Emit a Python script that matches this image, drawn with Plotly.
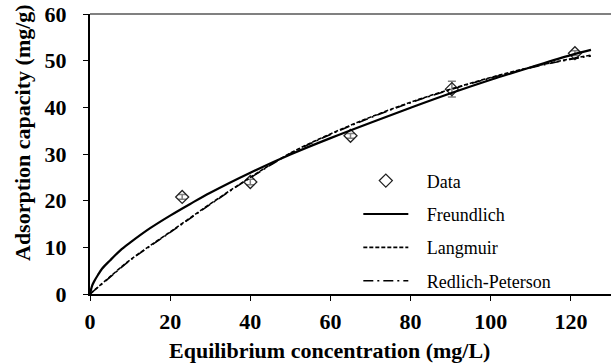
import plotly.graph_objects as go

# Experimental data
data_c = [23, 40, 65, 90.3, 121]
data_q = [20.8, 24.0, 33.9, 43.9, 51.6]
data_err = [0.5, 0.6, 0.5, 1.7, 0.5]

# Freundlich model curve
fr_c = [0, 0.5, 1, 2, 3, 5, 7.5, 10, 15, 20, 25, 30, 40, 50, 60, 70, 80, 90, 100, 110, 120, 125]
fr_q = [0, 1.7, 2.65, 4.1, 5.4, 7.2, 9.3, 11.0, 14.1, 16.8, 19.3, 21.7, 26.0, 29.9, 33.4, 36.7, 39.9, 43.0, 45.9, 48.6, 51.2, 52.3]

# Langmuir model curve
la_c = [0, 5, 10, 20, 30, 40, 50, 60, 70, 80, 90, 100, 110, 120, 125]
la_q = [0, 3.7, 7.3, 13.3, 19.3, 25.0, 30.2, 34.3, 37.9, 41.1, 43.9, 46.4, 48.6, 50.4, 51.2]

# Redlich-Peterson model curve
rp_c = [0, 5, 10, 20, 30, 40, 50, 60, 70, 80, 90, 100, 110, 120, 125]
rp_q = [0, 3.6, 7.2, 13.2, 19.2, 24.9, 30.1, 34.2, 37.8, 41.0, 43.8, 46.3, 48.5, 50.3, 51.0]

x_ticks = [0, 20, 40, 60, 80, 100, 120]
y_ticks = [0, 10, 20, 30, 40, 50, 60]

x_title = "Equilibrium concentration (mg/L)"
y_title = "Adsorption capacity (mg/g)"

SERIF = "Liberation Serif"
NB = "\u00a0\u00a0\u00a0"

fig = go.Figure()
fig.add_trace(go.Scatter(
    x=data_c, y=data_q, mode="markers", name=NB + "Data", legendgroup="a",
    marker=dict(symbol="diamond-open", size=10, color="#222222", line=dict(width=1.3)),
    error_y=dict(type="data", array=data_err, color="#808080", thickness=1.5, width=4),
))
fig.add_trace(go.Scatter(
    x=fr_c, y=fr_q, mode="lines", name=NB + "Freundlich", legendgroup="b",
    line=dict(color="black", width=2.2, shape="spline"),
))
fig.add_trace(go.Scatter(
    x=la_c, y=la_q, mode="lines", name=NB + "Langmuir", legendgroup="c",
    line=dict(color="black", width=1.6, dash="4px,2px", shape="spline"),
))
fig.add_trace(go.Scatter(
    x=rp_c, y=rp_q, mode="lines", name=NB + "Redlich-Peterson", legendgroup="d",
    line=dict(color="black", width=1.6, dash="10px,4px,2px,4px", shape="spline"),
))

fig.update_layout(
    width=611, height=363,
    margin=dict(l=90, r=0, t=14, b=69),
    paper_bgcolor="white", plot_bgcolor="white",
    font=dict(family=SERIF, color="black"),
    showlegend=True,
    legend=dict(
        x=0.515, y=0.47, xanchor="left", yanchor="top",
        font=dict(family=SERIF, size=18, color="black"),
        bgcolor="rgba(0,0,0,0)", tracegroupgap=7, itemwidth=45,
    ),
    xaxis=dict(
        range=[0, 130], tickvals=x_ticks, ticktext=[str(v) for v in x_ticks],
        showgrid=False, zeroline=False,
        showline=True, linecolor="black", linewidth=2,
        ticks="outside", ticklen=5, tickwidth=1, tickcolor="black",
        tickfont=dict(family=SERIF, size=22, weight="bold"),
        ticklabelstandoff=2,
    ),
    yaxis=dict(
        range=[0, 60], tickvals=y_ticks, ticktext=[str(v) for v in y_ticks],
        showgrid=False, zeroline=False,
        showline=True, linecolor="black", linewidth=2,
        ticks="outside", ticklen=5, tickwidth=1, tickcolor="black",
        tickfont=dict(family=SERIF, size=22, weight="bold"),
        ticklabelstandoff=12,
    ),
    annotations=[
        dict(text=x_title, xref="paper", yref="paper", x=0.459, y=-0.2,
             xanchor="center", yanchor="middle", showarrow=False,
             font=dict(family=SERIF, size=22, weight="bold", color="black")),
        dict(text=y_title, xref="paper", yref="paper", x=-0.1305, y=0.575,
             xanchor="center", yanchor="middle", showarrow=False, textangle=-90,
             font=dict(family=SERIF, size=22, weight="bold", color="black")),
    ],
    shapes=[dict(type="line", xref="paper", yref="paper", x0=0, x1=1, y0=1, y1=1,
                 line=dict(color="#808080", width=2))],
)

fig.write_html("out.html")
